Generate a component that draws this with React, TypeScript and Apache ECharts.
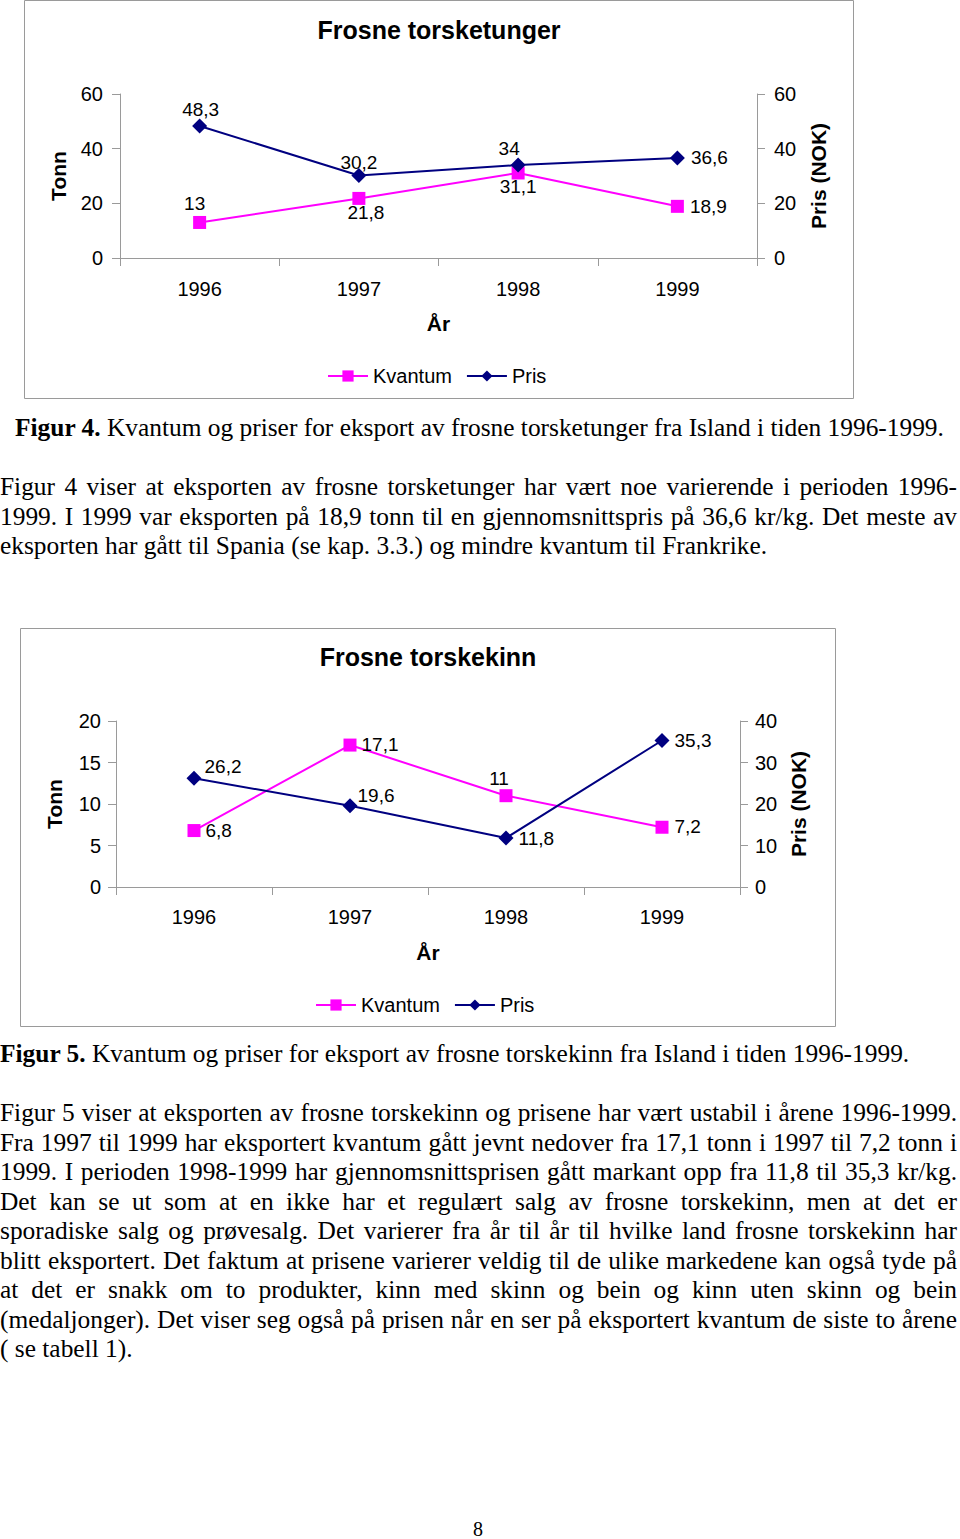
import React, { useEffect, useRef } from "react";
import * as echarts from "echarts";

// ---------- data ----------
const YEARS = ["1996", "1997", "1998", "1999"];

const TUNGER_KVANTUM = [13, 21.8, 31.1, 18.9];
const TUNGER_PRIS = [48.3, 30.2, 34, 36.6];
const TUNGER_LEFT_TICKS = [0, 20, 40, 60];
const TUNGER_RIGHT_TICKS = [0, 20, 40, 60];

const KINN_KVANTUM = [6.8, 17.1, 11, 7.2];
const KINN_PRIS = [26.2, 19.6, 11.8, 35.3];
const KINN_LEFT_TICKS = [0, 5, 10, 15, 20];
const KINN_RIGHT_TICKS = [0, 10, 20, 30, 40];

// ---------- label placement styles (position, distance, offset) ----------
type LP = [string, number, [number, number]];
const TUNGER_KV_LABELS: LP[] = [
  ["top", 3, [-5, 0]],
  ["bottom", -2, [7, 0]],
  ["bottom", -2, [0, 0]],
  ["right", 6, [0, 0]],
];
const TUNGER_PRIS_LABELS: LP[] = [
  ["top", -1, [1, 0]],
  ["top", -4, [0, 0]],
  ["top", 0, [-9, 0]],
  ["right", 6, [0, 0]],
];
const KINN_KV_LABELS: LP[] = [
  ["right", 5, [0, 0]],
  ["right", 5, [0, -1]],
  ["top", 1, [-7, 0]],
  ["right", 6, [0, -1]],
];
const KINN_PRIS_LABELS: LP[] = [
  ["right", 3, [0, -12]],
  ["right", 0, [0, -10]],
  ["right", 5, [0, 0]],
  ["right", 5, [0, 0]],
];

const SANS = "Arial, 'Liberation Sans', sans-serif";
const AXIS_GRAY = "#9a9a9a";
const MAGENTA = "#FF00FF";
const NAVY = "#000080";

const fmt = (v: number) => String(v).replace(".", ",");

function buildData(values: number[], labels: LP[]) {
  return values.map((v, i) => ({
    value: v,
    label: {
      position: labels[i][0],
      distance: labels[i][1],
      offset: labels[i][2],
    },
  }));
}

interface Cfg {
  title: string;
  titleX: number;
  titleTop: number;
  box: [number, number, number, number];
  grid: { left: number; top: number; width: number; height: number };
  leftTicks: number[];
  rightTicks: number[];
  kv: number[];
  pris: number[];
  kvLabels: LP[];
  prisLabels: LP[];
  legendLeft: number;
  legendTop: number;
  xMargin: number;
  xNameGap: number;
  yLeftMargin: number;
  yRightMargin: number;
  yLeftNameGap: number;
  yRightNameGap: number;
}

function yAxis(ticks: number[], position: string, margin: number, name: string, nameGap: number) {
  return {
    type: "value",
    position,
    min: ticks[0],
    max: ticks[ticks.length - 1],
    interval: ticks[1] - ticks[0],
    name,
    nameLocation: "middle",
    nameRotate: 90,
    nameGap,
    nameTextStyle: { fontFamily: SANS, fontSize: 21, fontWeight: "bold", color: "#000" },
    axisLine: { show: true, lineStyle: { color: AXIS_GRAY, width: 1 } },
    axisTick: { show: true, length: 8, lineStyle: { color: AXIS_GRAY } },
    axisLabel: { fontFamily: SANS, fontSize: 20, color: "#000", margin },
    splitLine: { show: false },
  };
}

function makeOption(c: Cfg) {
  const labelBase = { show: true, fontFamily: SANS, fontSize: 19, color: "#000", formatter: (p: any) => fmt(p.value) };
  return {
    animation: false,
    title: {
      text: c.title,
      left: c.titleX,
      top: c.titleTop,
      textAlign: "center",
      padding: 0,
      textStyle: { fontFamily: SANS, fontSize: 25, fontWeight: "bold", color: "#000" },
    },
    graphic: [
      {
        type: "rect",
        shape: { x: c.box[0], y: c.box[1], width: c.box[2], height: c.box[3] },
        style: { fill: "none", stroke: AXIS_GRAY, lineWidth: 1 },
        z: -1,
      },
    ],
    legend: {
      left: c.legendLeft,
      top: c.legendTop,
      padding: 0,
      itemWidth: 40,
      itemHeight: 14,
      itemGap: 14,
      textStyle: { fontFamily: SANS, fontSize: 20, color: "#000" },
      data: ["Kvantum", "Pris"],
    },
    grid: { ...c.grid, containLabel: false },
    xAxis: {
      type: "category",
      data: YEARS,
      boundaryGap: true,
      name: "År",
      nameLocation: "middle",
      nameGap: c.xNameGap,
      nameTextStyle: { fontFamily: SANS, fontSize: 21, fontWeight: "bold", color: "#000" },
      axisLine: { show: true, lineStyle: { color: AXIS_GRAY, width: 1 } },
      axisTick: { show: true, length: 8, interval: 0, lineStyle: { color: AXIS_GRAY } },
      axisLabel: { fontFamily: SANS, fontSize: 20, color: "#000", margin: c.xMargin },
      splitLine: { show: false },
    },
    yAxis: [
      yAxis(c.leftTicks, "left", c.yLeftMargin, "Tonn", c.yLeftNameGap),
      yAxis(c.rightTicks, "right", c.yRightMargin, "Pris (NOK)", c.yRightNameGap),
    ],
    series: [
      {
        name: "Kvantum",
        type: "line",
        yAxisIndex: 0,
        data: buildData(c.kv, c.kvLabels),
        symbol: "rect",
        symbolSize: 13,
        color: MAGENTA,
        lineStyle: { color: MAGENTA, width: 2 },
        itemStyle: { color: MAGENTA },
        label: labelBase,
      },
      {
        name: "Pris",
        type: "line",
        yAxisIndex: 1,
        data: buildData(c.pris, c.prisLabels),
        symbol: "diamond",
        symbolSize: 15,
        color: NAVY,
        lineStyle: { color: NAVY, width: 2 },
        itemStyle: { color: NAVY },
        label: labelBase,
      },
    ],
  };
}

const CFG1: Cfg = {
  title: "Frosne torsketunger",
  titleX: 439,
  titleTop: 17,
  box: [24.5, 0.5, 829, 398],
  grid: { left: 120, top: 94, width: 637, height: 164 },
  leftTicks: TUNGER_LEFT_TICKS,
  rightTicks: TUNGER_RIGHT_TICKS,
  kv: TUNGER_KVANTUM,
  pris: TUNGER_PRIS,
  kvLabels: TUNGER_KV_LABELS,
  prisLabels: TUNGER_PRIS_LABELS,
  legendLeft: 327,
  legendTop: 366,
  xMargin: 21,
  xNameGap: 55,
  yLeftMargin: 17,
  yRightMargin: 17,
  yLeftNameGap: 51,
  yRightNameGap: 51,
};

const CFG2: Cfg = {
  title: "Frosne torskekinn",
  titleX: 428,
  titleTop: 24,
  box: [20.5, 8.5, 815, 398],
  grid: { left: 116, top: 101, width: 624, height: 166 },
  leftTicks: KINN_LEFT_TICKS,
  rightTicks: KINN_RIGHT_TICKS,
  kv: KINN_KVANTUM,
  pris: KINN_PRIS,
  kvLabels: KINN_KV_LABELS,
  prisLabels: KINN_PRIS_LABELS,
  legendLeft: 315,
  legendTop: 375,
  xMargin: 20,
  xNameGap: 55,
  yLeftMargin: 15,
  yRightMargin: 15,
  yLeftNameGap: 51,
  yRightNameGap: 48,
};

function Chart({ cfg, top, height }: { cfg: Cfg; top: number; height: number }) {
  const ref = useRef<HTMLDivElement>(null);
  useEffect(() => {
    if (!ref.current) return;
    const chart = echarts.init(ref.current, null, { renderer: "svg" });
    chart.setOption(makeOption(cfg) as any);
    return () => chart.dispose();
  }, [cfg]);
  return <div ref={ref} style={{ position: "absolute", left: 0, top, width: 960, height }} />;
}

const SERIF = "'Liberation Serif', 'Times New Roman', serif";
const LINE_H = 29.5;

const P1 = [
  "Figur 4 viser at eksporten av frosne torsketunger har vært noe varierende i perioden 1996-",
  "1999. I 1999 var eksporten på 18,9 tonn til en gjennomsnittspris på 36,6 kr/kg. Det meste av",
  "eksporten har gått til Spania (se kap. 3.3.) og mindre kvantum til Frankrike.",
];
const P2 = [
  "Figur 5 viser at eksporten av frosne torskekinn og prisene har vært ustabil i årene 1996-1999.",
  "Fra 1997 til 1999 har eksportert kvantum gått jevnt nedover fra 17,1 tonn i 1997 til 7,2 tonn i",
  "1999. I perioden 1998-1999 har gjennomsnittsprisen gått markant opp fra 11,8 til 35,3 kr/kg.",
  "Det kan se ut som at en ikke har et regulært salg av frosne torskekinn, men at det er",
  "sporadiske salg og prøvesalg. Det varierer fra år til år til hvilke land frosne torskekinn har",
  "blitt eksportert. Det faktum at prisene varierer veldig til de ulike markedene kan også tyde på",
  "at det er snakk om to produkter, kinn med skinn og bein og kinn uten skinn og bein",
  "(medaljonger). Det viser seg også på prisen når en ser på eksportert kvantum de siste to årene",
  "( se tabell 1).",
];

function Para({ lines, top }: { lines: string[]; top: number }) {
  return (
    <div style={{ position: "absolute", left: 0, top, width: 957 }}>
      {lines.map((l, i) => (
        <div
          key={i}
          style={{
            height: LINE_H,
            lineHeight: LINE_H + "px",
            whiteSpace: "nowrap",
            textAlign: "justify",
            textAlignLast: i === lines.length - 1 ? "left" : "justify",
          } as any}
        >
          {l}
        </div>
      ))}
    </div>
  );
}

export default function App() {
  useEffect(() => {
    document.body.style.margin = "0";
  }, []);
  return (
    <div
      style={{
        position: "absolute",
        left: 0,
        top: 0,
        width: 960,
        height: 1539,
        background: "#fff",
        fontFamily: SERIF,
        fontSize: 25.4,
        color: "#000",
        overflow: "hidden",
      }}
    >
      <Chart cfg={CFG1} top={0} height={400} />
      <div style={{ position: "absolute", left: 15, top: 413, lineHeight: LINE_H + "px", whiteSpace: "nowrap" }}>
        <b>Figur 4.</b> Kvantum og priser for eksport av frosne torsketunger fra Island i tiden 1996-1999.
      </div>
      <Para lines={P1} top={472} />
      <Chart cfg={CFG2} top={620} height={410} />
      <div style={{ position: "absolute", left: 0, top: 1039, lineHeight: LINE_H + "px", whiteSpace: "nowrap" }}>
        <b>Figur 5.</b> Kvantum og priser for eksport av frosne torskekinn fra Island i tiden 1996-1999.
      </div>
      <Para lines={P2} top={1098} />
      <div style={{ position: "absolute", left: 0, width: 956, top: 1515, lineHeight: LINE_H + "px", textAlign: "center", fontSize: 20 }}>
        8
      </div>
    </div>
  );
}
